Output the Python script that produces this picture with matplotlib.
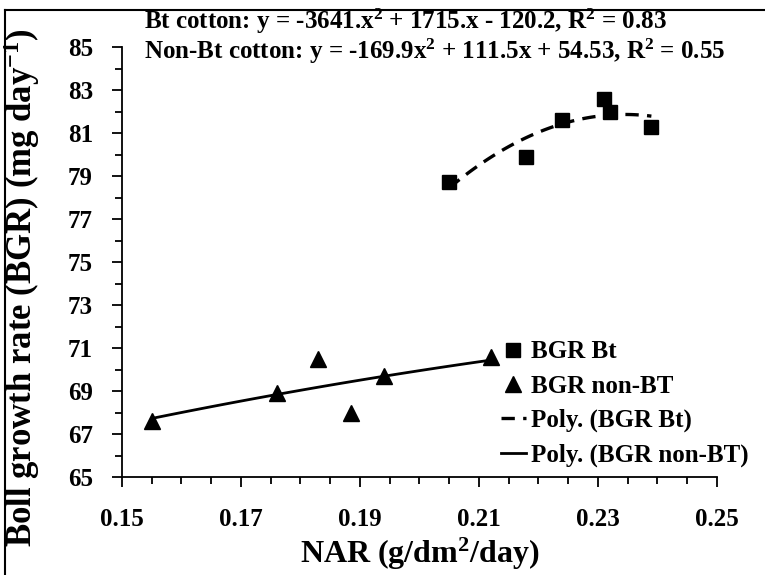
import matplotlib
matplotlib.use('Agg')
import matplotlib.pyplot as plt
import numpy as np
from matplotlib.ticker import FixedLocator, FormatStrFormatter
from matplotlib.lines import Line2D

# data
nar_bt = [0.205, 0.218, 0.224, 0.231, 0.232, 0.239]
bgr_bt = [78.7, 79.9, 81.6, 82.6, 82.0, 81.3]
nar_nonbt = [0.155, 0.176, 0.183, 0.1885, 0.194, 0.212]
bgr_nonbt = [67.6, 68.9, 70.5, 68.0, 69.7, 70.6]

x_major = [0.15, 0.17, 0.19, 0.21, 0.23, 0.25]
y_major = [65, 67, 69, 71, 73, 75, 77, 79, 81, 83, 85]

eq_bt = 'Bt cotton: y = -3641.x$^{\\mathbf{2}}$ + 1715.x - 120.2, R$^{\\mathbf{2}}$ = 0.83'
eq_nonbt = 'Non-Bt cotton: y = -169.9x$^{\\mathbf{2}}$ + 111.5x + 54.53, R$^{\\mathbf{2}}$ = 0.55'

plt.rcParams['font.family'] = ['Liberation Serif', 'DejaVu Serif']
plt.rcParams['font.weight'] = 'bold'
plt.rcParams['mathtext.fontset'] = 'custom'
plt.rcParams['mathtext.rm'] = 'Liberation Serif:bold'
plt.rcParams['mathtext.bf'] = 'Liberation Serif:bold'
plt.rcParams['mathtext.default'] = 'bf'

fig = plt.figure(figsize=(7.65, 5.75), dpi=100)
ax = fig.add_axes([0.1595, 0.1704, 0.7775, 0.7478])

# polynomial trendlines (order 2) over the data range
cb = np.polyfit(nar_bt, bgr_bt, 2)
xb = np.linspace(min(nar_bt), max(nar_bt), 100)
cn = np.polyfit(nar_nonbt, bgr_nonbt, 2)
xn = np.linspace(min(nar_nonbt), max(nar_nonbt), 100)

ax.plot(nar_bt, bgr_bt, 's', color='black', ms=10, label='BGR Bt')
ax.plot(nar_nonbt, bgr_nonbt, '^', color='black', ms=11, label='BGR non-BT')
ax.plot(xb, np.polyval(cb, xb), '--', color='black', lw=2.4, dashes=(4, 2.5),
        label='Poly. (BGR Bt)')
ax.plot(xn, np.polyval(cn, xn), '-', color='black', lw=2, label='Poly. (BGR non-BT)')

ax.set_xlim(0.15, 0.25)
ax.set_ylim(65, 85)
ax.xaxis.set_major_locator(FixedLocator(x_major))
ax.xaxis.set_minor_locator(FixedLocator(np.arange(0.15, 0.2501, 0.005)))
ax.yaxis.set_major_locator(FixedLocator(y_major))
ax.yaxis.set_minor_locator(FixedLocator(np.arange(65, 85.1, 1)))
ax.xaxis.set_major_formatter(FormatStrFormatter('%.2f'))
ax.tick_params(axis='both', which='major', direction='out', length=7, width=1.3,
               labelsize=18, colors='black')
ax.tick_params(axis='both', which='minor', direction='out', length=5, width=1.3)
ax.tick_params(axis='x', which='major', pad=15)
ax.tick_params(axis='y', which='major', pad=14)
for lab in ax.get_xticklabels() + ax.get_yticklabels():
    lab.set_fontweight('bold')

ax.spines['top'].set_visible(False)
ax.spines['right'].set_visible(False)
ax.spines['left'].set_linewidth(1.3)
ax.spines['bottom'].set_linewidth(1.3)

ax.set_xlabel('NAR (g/dm$^{\\mathbf{2}}$/day)', fontsize=23, fontweight='bold', labelpad=4)
fig.text(0.028, 0.5, 'Boll growth rate (BGR) (mg day$^{\\mathbf{-1}}$)', rotation=90,
         fontsize=25, fontweight='bold', ha='center', va='center')

fig.text(0.188, 0.962, eq_bt, fontsize=18, fontweight='bold', ha='left', va='center')
fig.text(0.188, 0.91, eq_nonbt, fontsize=18, fontweight='bold', ha='left', va='center')

leg = ax.legend(loc='lower right', bbox_to_anchor=(1.07, 0.0), frameon=False,
                prop={'family': 'Liberation Serif', 'weight': 'bold', 'size': 18},
                handlelength=1.0, handletextpad=0.2, labelspacing=0.45, borderaxespad=0)

# chart area border (left and top edges visible in the reference)
fig.add_artist(Line2D([0.007, 0.007], [0, 0.983], transform=fig.transFigure,
                      color='black', lw=1.5))
fig.add_artist(Line2D([0.007, 1.0], [0.983, 0.983], transform=fig.transFigure,
                      color='black', lw=1.5))

fig.savefig('out.png', dpi=100)
